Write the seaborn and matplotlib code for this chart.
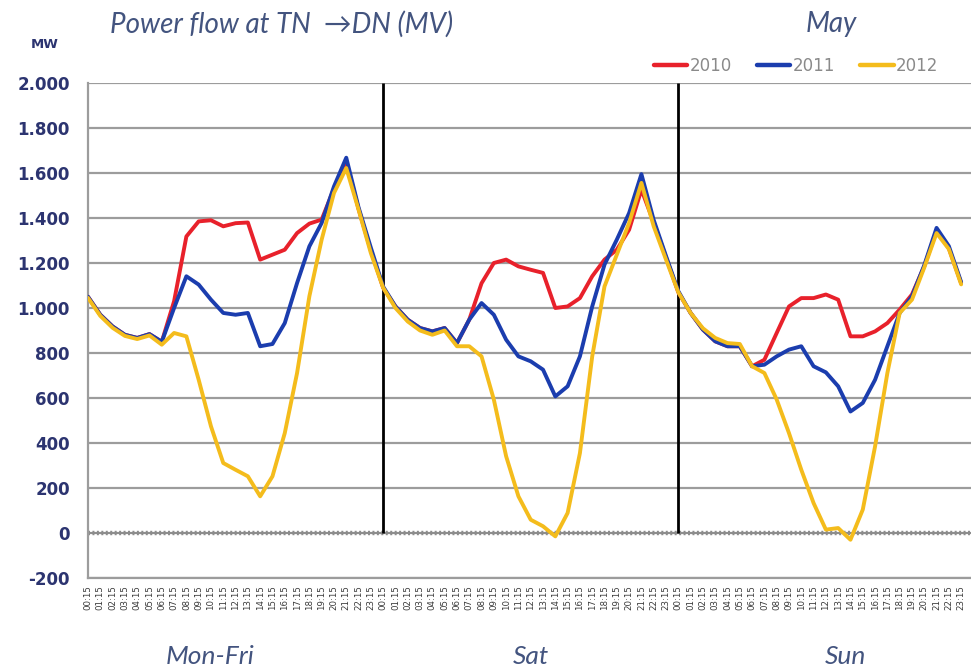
import numpy as np
import pandas as pd
import matplotlib
matplotlib.use("Agg")
import matplotlib.pyplot as plt
from matplotlib.lines import Line2D
import seaborn as sns

# ---------------- data ----------------
days = ["Mon-Fri", "Sat", "Sun"]
hour_labels = [f"{h:02d}:15" for h in range(24)]
years = ["2010", "2011", "2012"]

mw_2010 = [
    # Mon-Fri
    1050, 970, 918, 881, 867, 884, 850, 1030, 1318, 1385, 1390, 1363,
    1377, 1380, 1215, 1237, 1259, 1333, 1375, 1393, 1530, 1650, 1440, 1255,
    # Sat
    1090, 1007, 948, 911, 896, 911, 844, 948, 1110, 1200, 1215, 1185,
    1170, 1156, 1000, 1007, 1044, 1141, 1215, 1259, 1348, 1526, 1380, 1225,
    # Sun
    1070, 978, 904, 852, 830, 830, 741, 770, 889, 1007, 1044, 1044,
    1060, 1037, 874, 874, 896, 933, 993, 1060, 1185, 1345, 1265, 1110,
]
mw_2011 = [
    1050, 970, 918, 881, 867, 884, 850, 1000, 1141, 1104, 1037, 978,
    970, 978, 830, 840, 933, 1111, 1274, 1378, 1540, 1668, 1447, 1268,
    1095, 1007, 948, 911, 896, 911, 844, 948, 1022, 970, 859, 785,
    763, 726, 607, 652, 785, 1007, 1193, 1304, 1422, 1595, 1391, 1231,
    1075, 978, 904, 852, 830, 830, 741, 748, 785, 815, 830, 741,
    714, 652, 540, 578, 681, 830, 978, 1052, 1190, 1356, 1275, 1115,
]
mw_2012 = [
    1045, 965, 912, 876, 862, 878, 837, 889, 874, 681, 474, 311,
    281, 252, 163, 252, 444, 711, 1052, 1304, 1511, 1622, 1437, 1244,
    1090, 1000, 940, 900, 881, 900, 830, 830, 785, 593, 341, 163,
    59, 30, -15, 89, 355, 785, 1096, 1237, 1378, 1556, 1363, 1215,
    1070, 978, 910, 867, 844, 840, 741, 711, 593, 444, 281, 133,
    15, 22, -30, 104, 385, 711, 978, 1037, 1180, 1333, 1262, 1105,
]
colors = {"2010": "#E8212B", "2011": "#1B3DAE", "2012": "#F4BC1C"}

# ---------------- figure ----------------
sns.set_style("white")
plt.rcParams["font.family"] = ["DejaVu Sans"]

W, H = 971, 672
fig = plt.figure(figsize=(W / 100, H / 100), dpi=100)
ax = fig.add_axes([88 / W, 1 - 578 / H, 1 - 88 / W, (578 - 83) / H])

n = len(hour_labels) * len(days)
slots = np.arange(n)
df = pd.DataFrame({
    "slot": np.tile(slots, len(years)),
    "MW": mw_2010 + mw_2011 + mw_2012,
    "year": np.repeat(years, n),
})

sns.lineplot(data=df, x="slot", y="MW", hue="year", palette=colors,
             linewidth=2.8, ax=ax, legend=False, zorder=4)
for ln in ax.get_lines():
    ln.set_solid_joinstyle("round")
    ln.set_solid_capstyle("round")

grid_c = "#9c9c9c"
ax.set_ylim(-200, 2000)
ax.set_xlim(0, 71.8)
yt = list(range(-200, 2001, 200))
ax.set_yticks(yt)
ax.set_yticklabels([f"{v:,}".replace(",", ".") for v in yt],
                   fontsize=12, fontweight="bold", color="#2C3470")
ax.yaxis.grid(True, color=grid_c, linewidth=1.6, zorder=0)
ax.xaxis.grid(False)
ax.set_axisbelow(True)
ax.tick_params(axis="y", length=5, width=1.4, color=grid_c, pad=8)

ax.set_xticks(slots)
ax.set_xticklabels(hour_labels * len(days), rotation=90, fontsize=6.2,
                   color="#3a3a3a")
ax.tick_params(axis="x", length=0, pad=5)
ax.set_xlabel("")
ax.set_ylabel("")

for s in ["top", "right"]:
    ax.spines[s].set_visible(False)
for s in ["left", "bottom"]:
    ax.spines[s].set_color(grid_c)
    ax.spines[s].set_linewidth(1.6)

# zero axis with dense tick pattern
ax.axhline(0, color="#8c8c8c", linewidth=1.2, zorder=2)
ax.axhline(0, color="#8c8c8c", linewidth=3.2, linestyle=(0, (0.45, 0.55)), zorder=2)

# day separators
ax.vlines([24, 48], 0, 2000, color="black", linewidth=2.0, zorder=3)

# texts
title_c = "#43547F"
tfam = ["Lato", "DejaVu Sans"]
fig.text(110 / W, 1 - 24 / H, "Power flow at TN  \u2192DN (MV)", fontsize=20,
         style="italic", color=title_c, family=tfam, va="center", ha="left")
fig.text(831 / W, 1 - 24 / H, "May", fontsize=20, style="italic",
         color=title_c, family=tfam, va="center", ha="center")
fig.text(45 / W, 1 - 44 / H, "MW", fontsize=9.5, fontweight="bold",
         color="#2C3470", va="center", ha="center")
for lab, xc in zip(days, [210, 531, 846]):
    fig.text(xc / W, 1 - 656 / H, lab, fontsize=19, style="italic",
             color=title_c, family=tfam, va="center", ha="center")

handles = [Line2D([0], [0], color=colors[y], linewidth=3.2) for y in years]
leg = fig.legend(handles, years, loc="center left",
                 bbox_to_anchor=(654 / W, 1 - 66 / H), ncol=3, frameon=False,
                 fontsize=12, handlelength=2.0, handletextpad=0.15,
                 columnspacing=1.5, borderpad=0, borderaxespad=0)
for t in leg.get_texts():
    t.set_color("#8a8a8a")

fig.savefig("out.png", dpi=100)
